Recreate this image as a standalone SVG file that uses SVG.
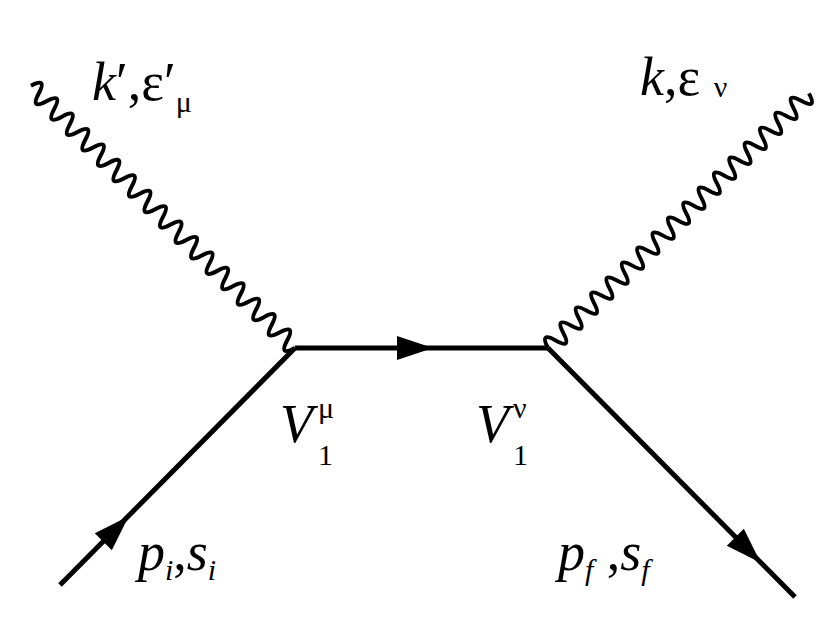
<svg xmlns="http://www.w3.org/2000/svg" width="829" height="632" viewBox="0 0 829 632">
<style>
.f{stroke:#000;stroke-width:5;fill:none}
.w{stroke:#000;stroke-width:4;fill:none}
text{font-family:"Liberation Serif",serif;font-size:54px;fill:#000}
.i{font-style:italic}
.s{font-size:30px}
</style>
<defs>
<path id="ah" d="M18,0 L-18,-12 L-18,12 Z" fill="#000"/>
<path id="wl" d="M0,0 q5.5,-18 11,0 t11,0 t11,0 t11,0 t11,0 t11,0 t11,0 t11,0 t11,0 t11,0 t11,0 t11,0 t11,0 t11,0 t11,0 t11,0 t11,0 t11,0 t11,0 t11,0 t11,0 t11,0 t11,0 t11,0 t11,0 t11,0 t11,0 t11,0 t11,0 t11,0 t11,0 t11,0 t11,0 t11,0"/>
</defs>
<g id="connectors">
<line class="f" x1="60" y1="585" x2="295" y2="348"/>
<line class="f" x1="295" y1="348" x2="548" y2="348"/>
<line class="f" x1="548" y1="348" x2="795" y2="597"/>
<use href="#ah" transform="translate(116,529) rotate(-45.2)"/>
<use href="#ah" transform="translate(415,348)"/>
<use href="#ah" transform="translate(748,550) rotate(45.2)"/>
<use class="w" href="#wl" transform="translate(295,348) rotate(-135.2) scale(0.995,1)"/>
<use class="w" href="#wl" transform="translate(548,348) rotate(-44.3) scale(0.975,1)"/>
</g>
<g id="labels">
<text x="92" y="100"><tspan class="i">k</tspan>′,ε′<tspan class="s" dy="12">μ</tspan></text>
<text x="640" y="95"><tspan class="i">k</tspan>,ε <tspan class="s" dy="2">ν</tspan></text>
<text x="280" y="442" class="i">V</text><text x="318" y="465" class="s">1</text><text x="318" y="418" class="s">μ</text>
<text x="476" y="442" class="i">V</text><text x="513" y="465" class="s">1</text><text x="513" y="418" class="s">ν</text>
<text x="138" y="570"><tspan class="i">p</tspan><tspan class="s i" dy="10">i</tspan><tspan dy="-10">,</tspan><tspan class="i">s</tspan><tspan class="s i" dy="10">i</tspan></text>
<text x="558" y="570"><tspan class="i">p</tspan><tspan class="s i" dy="10">f</tspan><tspan dy="-10"> ,</tspan><tspan class="i">s</tspan><tspan class="s i" dy="10">f</tspan></text>
</g>
</svg>
